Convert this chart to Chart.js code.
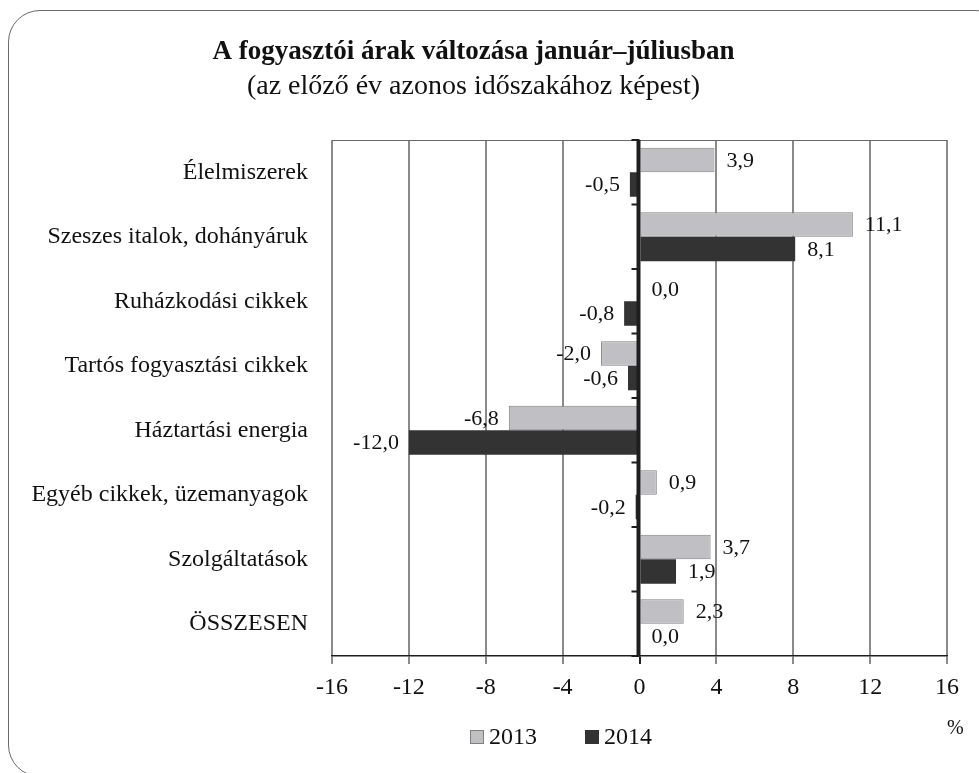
<!DOCTYPE html>
<html lang="hu">
<head>
<meta charset="utf-8">
<script src="https://cdn.jsdelivr.net/npm/chart.js@4"></script>
<style>
  html, body { margin: 0; padding: 0; background: #fff; }
  #wrap { position: relative; width: 979px; height: 773px; overflow: hidden; }
  #frame {
    position: absolute; left: 8px; top: 10px; width: 1000px; height: 767px;
    border: 1px solid #6a6a6a; border-radius: 32px; box-sizing: border-box;
  }
  #chart { position: absolute; left: 0; top: 0; }
  .txt { position: absolute; font-family: "Liberation Serif", serif; color: #111; }
  #pct { left: 947px; top: 716px; font-size: 20px; }
  #legend { left: 470px; top: 723px; font-size: 24px; display: flex; align-items: center; }
  #legend span.box { display: inline-block; width: 14px; height: 14px; box-sizing: border-box; margin-right: 5px; }
  #legend span.lbl { margin-right: 48px; }
</style>
</head>
<body>
<div id="wrap">
  <div id="frame"></div>
  <canvas id="chart" width="979" height="773"></canvas>
  <div id="pct" class="txt">%</div>
  <div id="legend" class="txt"></div>
</div>
<script>
const categories = [
  'Élelmiszerek',
  'Szeszes italok, dohányáruk',
  'Ruházkodási cikkek',
  'Tartós fogyasztási cikkek',
  'Háztartási energia',
  'Egyéb cikkek, üzemanyagok',
  'Szolgáltatások',
  'ÖSSZESEN'
];
const series2013 = [3.9, 11.1, 0.0, -2.0, -6.8, 0.9, 3.7, 2.3];
const series2014 = [-0.5, 8.1, -0.8, -0.6, -12.0, -0.2, 1.9, 0.0];
const seriesNames = ['2013', '2014'];
const xTicks = [-16, -12, -8, -4, 0, 4, 8, 12, 16];

const FONT = '"Liberation Serif", "Times New Roman", serif';
const fill2013 = '#c0c0c4';
const border2013 = '#808080';
const fill2014 = '#333333';

function fmt(v) {
  return v.toFixed(1).replace('.', ',');
}

// nulla-tengely, felső keret és kategória-osztások
const axisLines = {
  id: 'axisLines',
  afterDatasetsDraw(chart) {
    const { ctx, chartArea, scales } = chart;
    const x0 = scales.x.getPixelForValue(0);
    ctx.save();
    ctx.strokeStyle = '#6a6a6a';
    ctx.lineWidth = 1;
    ctx.beginPath();
    ctx.moveTo(chartArea.left, chartArea.top + 0.5);
    ctx.lineTo(chartArea.right, chartArea.top + 0.5);
    ctx.stroke();

    ctx.strokeStyle = '#1e1e1e';
    ctx.lineWidth = 4;
    ctx.beginPath();
    ctx.moveTo(x0 - 1, chartArea.top);
    ctx.lineTo(x0 - 1, chartArea.bottom);
    ctx.stroke();

    ctx.lineWidth = 2;
    const n = categories.length;
    const step = scales.y.height / n;
    for (let i = 0; i <= n; i++) {
      const y = scales.y.top + i * step;
      ctx.beginPath();
      ctx.moveTo(x0 - 8, y);
      ctx.lineTo(x0, y);
      ctx.stroke();
    }
    ctx.restore();
  }
};

// értékcímkék a sávok végén
const valueLabels = {
  id: 'valueLabels',
  afterDatasetsDraw(chart) {
    const { ctx, scales } = chart;
    const x0 = scales.x.getPixelForValue(0);
    ctx.save();
    ctx.font = '22px ' + FONT;
    ctx.fillStyle = '#111';
    ctx.textBaseline = 'middle';
    chart.data.datasets.forEach((ds, di) => {
      const meta = chart.getDatasetMeta(di);
      meta.data.forEach((bar, i) => {
        const v = ds.data[i];
        if (v < 0) {
          ctx.textAlign = 'right';
          ctx.fillText(fmt(v), bar.x - 10, bar.y + 1);
        } else {
          ctx.textAlign = 'left';
          ctx.fillText(fmt(v), Math.max(bar.x, x0) + 12, bar.y + 1);
        }
      });
    });
    ctx.restore();
  }
};

const chart = new Chart(document.getElementById('chart'), {
  type: 'bar',
  data: {
    labels: categories,
    datasets: [
      {
        label: seriesNames[0],
        data: series2013,
        backgroundColor: fill2013,
        borderColor: border2013,
        borderWidth: 1,
        borderSkipped: false
      },
      {
        label: seriesNames[1],
        data: series2014,
        backgroundColor: fill2014,
        borderColor: fill2014,
        borderWidth: 0
      }
    ]
  },
  options: {
    indexAxis: 'y',
    responsive: false,
    animation: false,
    datasets: { bar: { categoryPercentage: 0.76, barPercentage: 1.0 } },
    layout: { padding: { left: 0, right: 32, top: 0, bottom: 0 } },
    scales: {
      x: {
        min: -16,
        max: 16,
        afterBuildTicks(scale) {
          scale.ticks = xTicks.map(v => ({ value: v }));
        },
        afterFit(scale) { scale.height = 117; },
        ticks: {
          font: { family: FONT, size: 24 },
          color: '#111',
          padding: 9
        },
        grid: {
          color: ctx => (ctx.tick && ctx.tick.value === 0) ? 'rgba(0,0,0,0)' : '#8a8a8a',
          tickColor: ctx => (ctx.tick && ctx.tick.value === 0) ? '#1e1e1e' : '#8a8a8a',
          lineWidth: 2,
          tickLength: 8
        },
        border: { display: true, color: '#1e1e1e', width: 1.5 }
      },
      y: {
        afterFit(scale) { scale.width = 332; },
        ticks: {
          font: { family: FONT, size: 24 },
          color: '#111',
          padding: 16
        },
        grid: { display: false },
        border: { display: false }
      }
    },
    plugins: {
      legend: { display: false },
      tooltip: { enabled: false },
      title: {
        display: true,
        text: 'A fogyasztói árak változása január–júliusban',
        font: { family: FONT, size: 27, weight: 'bold' },
        color: '#111',
        padding: { top: 36, bottom: 1 }
      },
      subtitle: {
        display: true,
        text: '(az előző év azonos időszakához képest)',
        font: { family: FONT, size: 28 },
        color: '#111',
        padding: { top: 0, bottom: 37 }
      }
    }
  },
  plugins: [axisLines, valueLabels]
});

// jelmagyarázat
const legend = document.getElementById('legend');
chart.data.datasets.forEach(ds => {
  const box = document.createElement('span');
  box.className = 'box';
  box.style.background = ds.backgroundColor;
  box.style.border = '1px solid ' + (ds.borderWidth ? ds.borderColor : ds.backgroundColor);
  const lbl = document.createElement('span');
  lbl.className = 'lbl';
  lbl.textContent = ds.label;
  legend.appendChild(box);
  legend.appendChild(lbl);
});
</script>
</body>
</html>
